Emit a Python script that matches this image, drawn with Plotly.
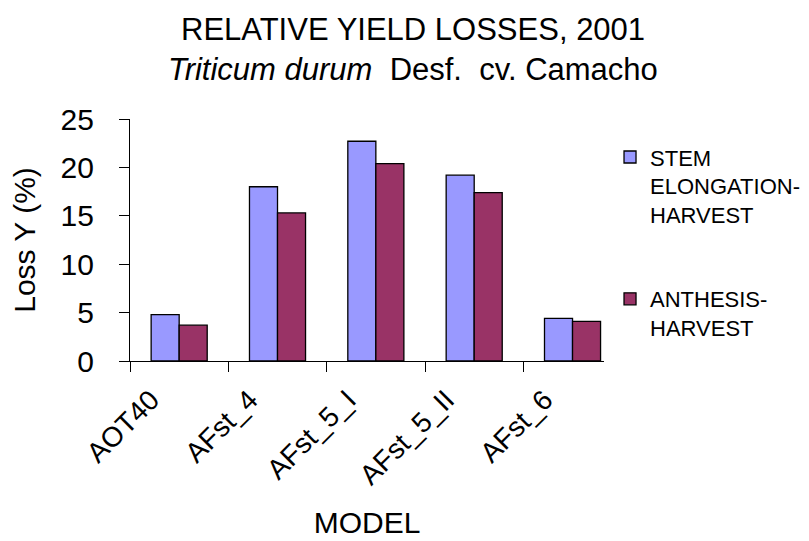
import plotly.graph_objects as go

models = ["AOT40", "AFst_4", "AFst_5_I", "AFst_5_II", "AFst_6"]
stem_elong = [4.8, 18.0, 22.7, 19.2, 4.4]
anthesis = [3.7, 15.3, 20.4, 17.4, 4.1]
series_names = ["STEM<br>ELONGATION-<br>HARVEST", "ANTHESIS-<br>HARVEST"]
y_ticks = [0, 5, 10, 15, 20, 25]
title_line1 = "RELATIVE YIELD LOSSES, 2001"
title_line2 = "<i>Triticum durum</i>  Desf.  cv. Camacho"

FONT = "Liberation Sans, Arial, sans-serif"

fig = go.Figure()
fig.add_trace(go.Bar(x=models, y=stem_elong, name=series_names[0], legendgroup="a",
                     marker=dict(color="#9999FF", line=dict(color="black", width=1.3))))
fig.add_trace(go.Bar(x=models, y=anthesis, name=series_names[1], legendgroup="b",
                     marker=dict(color="#993366", line=dict(color="black", width=1.3))))

fig.update_layout(
    width=809, height=541,
    margin=dict(l=122, r=213, t=111, b=188, autoexpand=False),
    paper_bgcolor="white", plot_bgcolor="white",
    font=dict(family=FONT, color="black"),
    barmode="group", bargap=0.43, bargroupgap=0,
    legend=dict(x=1.0127, xanchor="left", y=0.929, yanchor="top",
                font=dict(size=22, family=FONT, color="black"),
                valign="top", tracegroupgap=53, bgcolor="rgba(0,0,0,0)"),
    showlegend=True,
    annotations=[
        dict(text=title_line1, x=0.596, y=1.369, xref="paper", yref="paper",
             xanchor="center", yanchor="middle", showarrow=False,
             font=dict(size=31, family=FONT, color="black")),
        dict(text=title_line2, x=0.596, y=1.205, xref="paper", yref="paper",
             xanchor="center", yanchor="middle", showarrow=False,
             font=dict(size=31, family=FONT, color="black")),
    ],
)
fig.update_xaxes(
    type="category", range=[-0.5, 4.32],
    showline=True, linecolor="black", linewidth=1.3,
    ticks="outside", ticklen=10, tickcolor="black", tickwidth=1.3,
    tickson="boundaries", tickangle=-45,
    ticklabelshift=-28, ticklabelstandoff=10,
    tickfont=dict(size=28, family=FONT, color="black"),
    showgrid=False, zeroline=False,
    title=dict(text="MODEL", font=dict(size=30, family=FONT, color="black"), standoff=22),
)
fig.update_yaxes(
    range=[0, 25], tickvals=y_ticks,
    showline=True, linecolor="black", linewidth=1.3,
    ticks="outside", ticklen=10, tickcolor="black", tickwidth=1.3,
    tickfont=dict(size=30, family=FONT, color="black"),
    ticklabelstandoff=19,
    showgrid=False, zeroline=False,
    title=dict(text="Loss Y (%)", font=dict(size=30, family=FONT, color="black"), standoff=17),
)

fig.write_html("out.html")
